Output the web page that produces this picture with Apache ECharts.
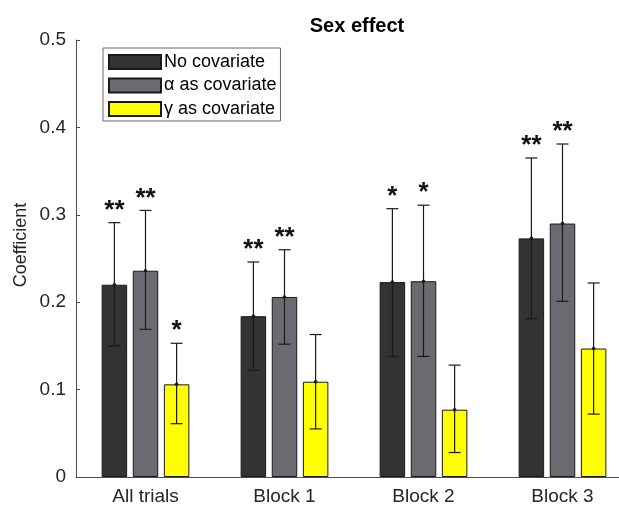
<!DOCTYPE html>
<html>
<head>
<meta charset="utf-8">
<script src="https://cdn.jsdelivr.net/npm/echarts@6/dist/echarts.min.js"></script>
<style>html,body{margin:0;padding:0;background:#fff}#c{width:619px;height:506px}</style>
</head>
<body>
<div id="c"></div>
<script>
const categories = ['All trials', 'Block 1', 'Block 2', 'Block 3'];
const seriesNames = ['No covariate', 'α as covariate', 'γ as covariate'];
const noCov = [0.220, 0.184, 0.223, 0.273];
const noCovLow = [0.150, 0.122, 0.138, 0.181];
const noCovHigh = [0.291, 0.246, 0.307, 0.365];
const alphaCov = [0.236, 0.206, 0.224, 0.290];
const alphaLow = [0.169, 0.152, 0.138, 0.201];
const alphaHigh = [0.305, 0.260, 0.311, 0.381];
const gammaCov = [0.106, 0.109, 0.077, 0.147];
const gammaLow = [0.061, 0.055, 0.028, 0.072];
const gammaHigh = [0.153, 0.163, 0.128, 0.222];
const noCovSig = ['**', '**', '*', '**'];
const alphaSig = ['**', '**', '*', '**'];
const gammaSig = ['*', '', '', ''];
const yTicks = [0, 0.1, 0.2, 0.3, 0.4, 0.5];

const colors = ['#333333', '#6a6b70', '#ffff00'];
const BAR_W = 25.5;
const BAR_GAP = 0.22;
const FONT = 'Liberation Sans, Arial, Helvetica, sans-serif';

const groups = [
  { name: seriesNames[0], val: noCov, lo: noCovLow, hi: noCovHigh, sig: noCovSig },
  { name: seriesNames[1], val: alphaCov, lo: alphaLow, hi: alphaHigh, sig: alphaSig },
  { name: seriesNames[2], val: gammaCov, lo: gammaLow, hi: gammaHigh, sig: gammaSig }
];

const series = [];
groups.forEach((g, i) => {
  series.push({
    name: g.name,
    type: 'bar',
    data: g.val,
    barWidth: BAR_W,
    barGap: (BAR_GAP * 100) + '%',
    itemStyle: { color: colors[i], borderColor: '#1a1a1a', borderWidth: 1 },
    z: 2
  });
});
groups.forEach((g, i) => {
  const off = (i - 1) * BAR_W * (1 + BAR_GAP);
  series.push({
    type: 'custom',
    coordinateSystem: 'cartesian2d',
    z: 5,
    silent: true,
    data: categories.map((c, k) => [k, g.lo[k], g.hi[k], g.val[k]]),
    encode: { x: 0, y: [1, 2] },
    renderItem: function (params, api) {
      const c = api.value(0);
      const pLo = api.coord([c, api.value(1)]);
      const pHi = api.coord([c, api.value(2)]);
      const pM = api.coord([c, api.value(3)]);
      const x = pLo[0] + off;
      const cap = 6;
      const st = { stroke: '#1a1a1a', lineWidth: 1.2 };
      const children = [
        { type: 'line', shape: { x1: x, y1: pLo[1], x2: x, y2: pHi[1] }, style: st },
        { type: 'line', shape: { x1: x - cap, y1: pHi[1], x2: x + cap, y2: pHi[1] }, style: st },
        { type: 'line', shape: { x1: x - cap, y1: pLo[1], x2: x + cap, y2: pLo[1] }, style: st },
        { type: 'circle', shape: { cx: x, cy: pM[1], r: 1.8 }, style: { fill: '#1a1a1a' } }
      ];
      const s = g.sig[params.dataIndex];
      if (s) {
        children.push({
          type: 'text',
          style: {
            text: s, x: x, y: pHi[1] - 12,
            align: 'center', verticalAlign: 'middle',
            font: 'bold 26px ' + FONT, fill: '#111'
          }
        });
      }
      return { type: 'group', children: children };
    }
  });
});

const chart = echarts.init(document.getElementById('c'), null, { renderer: 'canvas' });
chart.setOption({
  animation: false,
  backgroundColor: '#fff',
  title: {
    text: 'Sex effect',
    left: 352, top: 11, textAlign: 'center',
    textStyle: { fontFamily: FONT, fontSize: 20, fontWeight: 'bold', color: '#000' }
  },
  legend: {
    data: seriesNames,
    orient: 'vertical',
    left: 103, top: 48,
    padding: [5, 4, 3, 5],
    itemWidth: 52, itemHeight: 14, itemGap: 5.5,
    borderColor: '#666', borderWidth: 1, backgroundColor: '#fff',
    icon: 'rect',
    textStyle: { fontFamily: FONT, fontSize: 18, color: '#000', lineHeight: 17, padding: [0, 0, 0, -2] }
  },
  grid: { left: 76, top: 40, bottom: 29, width: 556, containLabel: false, outerBoundsMode: 'none' },
  xAxis: {
    type: 'category',
    data: categories,
    axisLine: { lineStyle: { color: '#4d4d4d', width: 1 } },
    axisTick: { show: true, inside: true, alignWithLabel: true, length: 4, lineStyle: { color: '#4d4d4d' } },
    axisLabel: { fontFamily: FONT, fontSize: 19, color: '#262626', margin: 10 },
    splitLine: { show: false }
  },
  yAxis: {
    type: 'value',
    min: 0, max: 0.5, interval: 0.1,
    axisLine: { show: true, lineStyle: { color: '#4d4d4d', width: 1 } },
    axisTick: { show: true, inside: true, length: 4, lineStyle: { color: '#4d4d4d' } },
    axisLabel: {
      fontFamily: FONT, fontSize: 19, color: '#262626', margin: 10,
      formatter: v => { const t = yTicks.find(q => Math.abs(q - v) < 1e-9); return t === undefined ? '' : String(t); }
    },
    splitLine: { show: false }
  },
  graphic: [{
    type: 'text',
    x: 21, y: 245,
    rotation: Math.PI / 2,
    style: { text: 'Coefficient', align: 'center', verticalAlign: 'middle', font: 'normal 18px ' + FONT, fill: '#262626' }
  }],
  series: series
});
</script>
</body>
</html>
